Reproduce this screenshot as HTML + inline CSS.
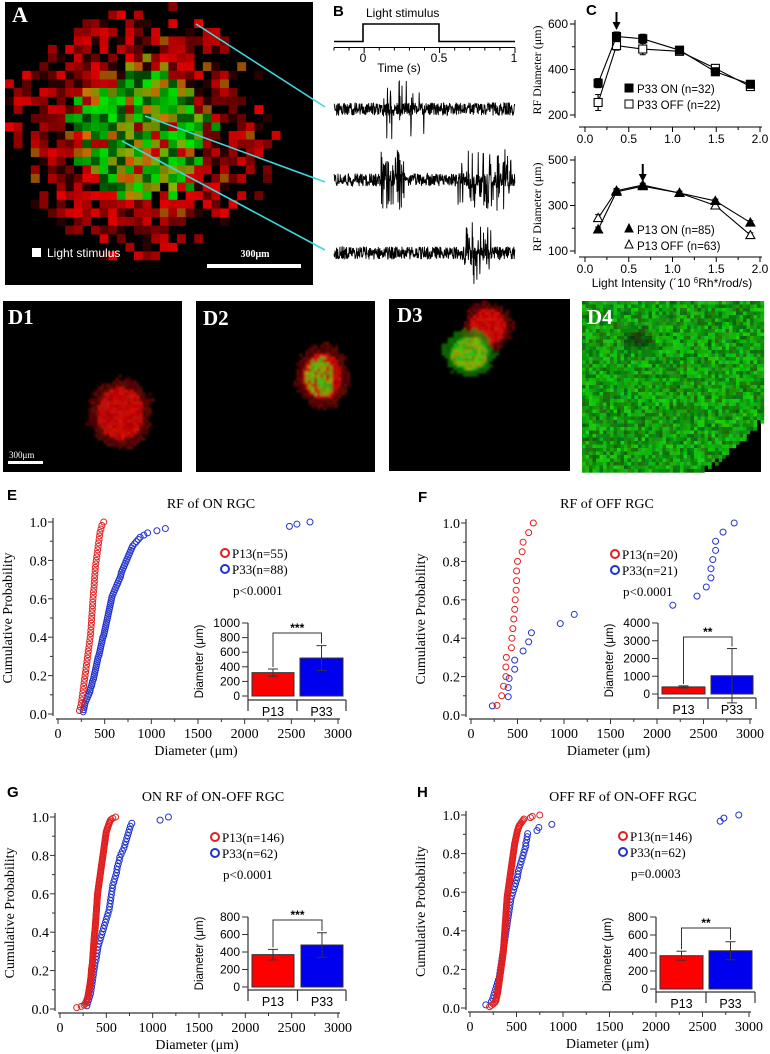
<!DOCTYPE html>
<html><head><meta charset="utf-8">
<style>
html,body{margin:0;padding:0;background:#fff;}
svg{display:block;}
.serif{font-family:"Liberation Serif",serif;}
.sans{font-family:"Liberation Sans",sans-serif;}
</style></head>
<body>
<svg id="fig" width="770" height="1054" viewBox="0 0 770 1054" xmlns="http://www.w3.org/2000/svg">
<defs><filter id="soft" x="-20%" y="-20%" width="140%" height="140%"><feGaussianBlur stdDeviation="1.1"/></filter></defs>
<rect x="0" y="0" width="770" height="1054" fill="#fff"/>
<g id="panelA">
<rect x="5" y="2" width="308" height="283" fill="#000"/>
<g id="aPix"></g>
<text x="12" y="22" class="serif" font-size="22" font-weight="bold" fill="#fff">A</text>
<rect x="32" y="248" width="9" height="9" fill="#fff"/>
<text x="47" y="257" class="sans" font-size="12" fill="#fff">Light stimulus</text>
<text x="255" y="257" class="serif" font-size="10" font-weight="bold" fill="#fff" text-anchor="middle">300μm</text>
<rect x="207" y="264" width="94" height="4" fill="#fff"/>
</g>
<g stroke="#3fd7df" stroke-width="1.6">
<line x1="196" y1="24" x2="325" y2="107"/>
<line x1="145" y1="116" x2="325" y2="182"/>
<line x1="122" y1="141" x2="325" y2="250"/>
</g>
<g id="panelB">
<text x="333" y="16" class="sans" font-size="15" font-weight="bold">B</text>
<text x="366" y="17" class="sans" font-size="12">Light stimulus</text>
<polyline points="334,41.5 363,41.5 363,24 439,24 439,41.5 515,41.5" fill="none" stroke="#000" stroke-width="1.6"/>
<line x1="334" y1="47.5" x2="515" y2="47.5" stroke="#000" stroke-width="1"/>
<g id="bTicks"></g>
<text x="363" y="62" class="sans" font-size="12" text-anchor="middle">0</text>
<text x="439" y="62" class="sans" font-size="12" text-anchor="middle">0.5</text>
<text x="514" y="62" class="sans" font-size="12" text-anchor="middle">1</text>
<text x="399" y="72" class="sans" font-size="12" text-anchor="middle">Time (s)</text>
<g id="bTraces"></g>
</g>
<g id="panelC">
<text x="586" y="15" class="sans" font-size="15" font-weight="bold">C</text>
<g id="cTop"></g><g id="cBot"></g>
<text class="serif" font-size="12" text-anchor="middle" transform="translate(541,70) rotate(-90)">RF Diameter (μm)</text>
<text class="serif" font-size="12" text-anchor="middle" transform="translate(541,207) rotate(-90)">RF Diameter (μm)</text>
<text x="672" y="287" class="sans" font-size="12" text-anchor="middle">Light Intensity (´10 <tspan font-size="8" dy="-4">6</tspan><tspan dy="4">Rh*/rod/s)</tspan></text>
</g>
<g id="panelD">
<rect x="3" y="301" width="179" height="171" fill="#000"/>
<rect x="196" y="301" width="179" height="171" fill="#000"/>
<rect x="389" y="299" width="181" height="172" fill="#000"/>
<rect x="582" y="301" width="179" height="171" fill="#000"/>
<g id="dPix" filter="url(#soft)"></g>
<g id="d4Pix"></g>
<text x="8" y="324" class="serif" font-size="21" font-weight="bold" fill="#fff">D1</text>
<text x="203" y="325" class="serif" font-size="21" font-weight="bold" fill="#fff">D2</text>
<text x="397" y="322" class="serif" font-size="21" font-weight="bold" fill="#fff">D3</text>
<text x="587" y="324" class="serif" font-size="21" font-weight="bold" fill="#fff">D4</text>
<text x="9" y="458" class="serif" font-size="9" fill="#fff">300μm</text>
<rect x="8" y="461" width="35" height="3" fill="#fff"/>
</g>
<text x="7" y="500" class="sans" font-size="15" font-weight="bold">E</text>
<text x="211" y="508" class="serif" font-size="14" text-anchor="middle">RF of ON RGC</text>
<text x="418" y="502" class="sans" font-size="15" font-weight="bold">F</text>
<text x="607" y="508" class="serif" font-size="14" text-anchor="middle">RF of OFF RGC</text>
<text x="7" y="797" class="sans" font-size="15" font-weight="bold">G</text>
<text x="213" y="801" class="serif" font-size="14" text-anchor="middle">ON RF of ON-OFF RGC</text>
<text x="417" y="797" class="sans" font-size="15" font-weight="bold">H</text>
<text x="623" y="801" class="serif" font-size="14" text-anchor="middle">OFF RF of ON-OFF RGC</text>
<g id="cdfE"></g><g id="cdfF"></g><g id="cdfG"></g><g id="cdfH"></g>
</svg>
<script>
const NS='http://www.w3.org/2000/svg';
const cIntensity=[0.15,0.36,0.66,1.08,1.49,1.89];
const cP33On=[340,545,535,485,390,335];
const cP33OnErr=[20,20,20,15,10,10];
const cP33Off=[255,505,490,480,405,325];
const cP33OffErr=[35,20,25,15,10,10];
const cP13On=[195,360,385,355,320,225];
const cP13OnErr=[10,10,8,8,8,8];
const cP13Off=[245,365,390,355,300,170];
const cP13OffErr=[15,10,8,8,8,10];
const cTopTicks=[200,400,600];
const cBotTicks=[100,300,500];
const cXTicks=[0,0.5,1,1.5,2];
const eP13=[230,240,250,255,260,265,270,275,280,285,290,295,300,305,310,315,320,325,330,335,340,345,350,352,355,358,360,362,365,368,370,372,375,378,380,385,388,390,392,395,398,400,405,410,415,420,425,430,435,440,445,450,460,470,490];
const eP33=[270,275,280,285,290,300,310,320,330,340,345,350,360,365,370,380,385,390,395,400,405,410,415,420,425,430,440,445,450,455,460,465,470,475,480,490,495,500,505,510,515,520,525,530,535,540,545,550,555,560,565,570,575,580,590,600,610,620,630,640,650,660,670,675,680,690,700,710,720,730,740,750,760,770,780,790,800,820,840,860,880,920,960,1060,1150,2480,2560,2700];
const fP13=[280,330,350,375,375,380,435,440,450,460,470,475,485,490,490,500,550,560,620,670];
const fP33=[230,400,400,410,470,470,560,620,650,960,1110,2170,2430,2530,2580,2580,2600,2630,2630,2710,2830];
const gP13=[180,230,260,270,280,285,290,295,300,302,305,308,310,312,315,318,320,322,324,326,328,330,332,334,335,336,337,338,339,340,342,344,346,348,350,351,352,353,354,355,356,357,358,359,360,361,362,363,364,365,366,367,368,369,370,371,372,374,376,378,379,380,381,382,383,384,385,386,387,388,389,390,391,392,393,394,395,396,397,398,399,400,401,402,403,404,405,406,408,410,412,414,416,418,420,422,424,426,428,430,432,434,436,438,440,442,444,446,448,450,452,454,456,458,460,462,464,466,468,470,472,474,476,478,480,482,484,486,488,490,492,494,496,498,500,505,510,515,520,525,530,535,540,550,570,600];
const gP33=[290,300,310,320,330,335,340,345,350,355,360,365,370,375,380,390,395,400,405,410,420,430,440,450,460,470,480,490,500,510,520,530,535,540,545,550,555,560,565,570,580,590,600,610,615,620,630,640,645,660,675,690,700,710,720,730,740,750,760,775,1080,1170];
const hP13=[210,230,250,265,275,280,283,286,289,292,295,298,300,302,304,306,308,310,312,314,316,318,320,322,324,326,328,330,332,334,336,338,340,342,344,346,348,350,352,354,356,358,359,360,361,362,363,364,365,366,367,368,369,370,371,372,373,374,375,376,377,378,379,380,381,382,383,384,385,386,387,388,389,390,391,392,393,394,395,396,397,398,399,400,402,404,406,408,410,412,414,416,418,420,422,424,426,428,430,432,434,436,438,440,442,444,446,448,450,452,454,456,458,460,462,464,466,468,470,472,474,476,478,480,483,486,489,492,495,498,501,504,507,510,515,520,525,530,540,550,560,570,580,650,670,750];
const hP33=[170,230,245,255,265,275,285,295,305,315,320,325,330,335,340,345,350,355,360,365,370,375,380,385,390,395,400,405,410,415,420,425,430,435,440,450,460,470,480,490,500,510,515,520,530,540,550,560,570,580,590,600,600,610,615,620,720,740,880,2690,2730,2890];
const cdfXTicks=[0,500,1000,1500,2000,2500,3000];
const cdfYTicks=[0,0.2,0.4,0.6,0.8,1.0];
const eMeans=[320,520]; const eErrs=[50,170]; const eTicks=[0,200,400,600,800,1000];
const fMeans=[400,1030]; const fErrs=[60,1530]; const fTicks=[0,1000,2000,3000,4000];
const gMeans=[370,480]; const gErrs=[60,140]; const gTicks=[0,200,400,600,800];
const hMeans=[370,425]; const hErrs=[50,100]; const hTicks=[0,200,400,600,800];
const groupLabels=['P13','P33'];

function mk(tag,attrs,parent){const e=document.createElementNS(NS,tag);for(const k in attrs)e.setAttribute(k,attrs[k]);parent.appendChild(e);return e;}
function txt(parent,x,y,s,attrs){const t=mk('text',Object.assign({x:x,y:y},attrs||{}),parent);t.textContent=s;return t;}
let seed=12345;function rnd(){seed=(seed*1103515245+12345)&0x7fffffff;return seed/0x7fffffff;}

(function(){
 const g=document.getElementById('aPix');const s=8.6;const cx=140,cy=130;
 for(let yy=2;yy<285;yy+=s){for(let xx=5;xx<313;xx+=s){
  const dx=(xx+s/2-cx)/1.05,dy=yy+s/2-cy;const d=Math.sqrt(dx*dx+dy*dy);
  let col=null;
  if(d<55+rnd()*20){const r=rnd();
    if(r<0.35)col='rgb(0,'+(140+Math.floor(rnd()*90))+',0)';
    else if(r<0.6)col='rgb('+(90+Math.floor(rnd()*60))+','+(130+Math.floor(rnd()*50))+',0)';
    else if(r<0.8)col='rgb(0,'+(60+Math.floor(rnd()*50))+',0)';
    else if(r<0.9)col='rgb('+(160+Math.floor(rnd()*60))+','+(80+Math.floor(rnd()*50))+',0)';
    else col='rgb('+(150+Math.floor(rnd()*60))+',0,0)';}
  else if(d<140){const p=d<95?0.85:(140-d)/60; if(rnd()<p){const r=rnd();
    col=r<0.15?'rgb(40,0,0)':'rgb('+(90+Math.floor(rnd()*140))+',0,0)'; if(rnd()<0.04)col='rgb(150,80,0)';}}
  if(col){const r=mk('rect',{x:xx.toFixed(1),y:yy.toFixed(1),width:s+0.3,height:s+0.3,fill:col},g);
   
   }
 }}
})();

(function(){
 const tg=document.getElementById('bTicks');
 for(let i=0;i<=12;i++){const x=334+i*(181/12);const major=(Math.abs(x-363)<2||Math.abs(x-439)<2||Math.abs(x-514)<2);
  mk('line',{x1:x,y1:47.5,x2:x,y2:major?53:50.5,stroke:'#000','stroke-width':1},tg);}
 const g=document.getElementById('bTraces');
 const traces=[{y:109,bursts:[[382,426,0.25]]},{y:180,bursts:[[381,404,0.7],[457,514,0.45]]},{y:253,bursts:[[460,491,0.35]]}];
 traces.forEach((t,ti)=>{let d='';
  for(let x=334;x<=515;x+=0.33){let a=(rnd()-0.5)*13;
   t.bursts.forEach(b=>{if(x>=b[0]&&x<=b[1]&&rnd()<b[2]){a=(rnd()-0.5)*62;}});
   d+=(d===''?'M':'L')+x.toFixed(2)+' '+(t.y+a).toFixed(1);}
  const p=mk('path',{d:d,fill:'none',stroke:'#000','stroke-width':0.9},g);
  
  
 });
})();

function drawC(gid,cfg,on,onE,off,offE,yTicks,shape,legend){
 const g=document.getElementById(gid);
 const sx=v=>cfg.xl+v/2*(cfg.xr-cfg.xl);
 const sy=v=>cfg.yp0+(v-cfg.yv0)/(cfg.yv1-cfg.yv0)*(cfg.yp1-cfg.yp0);
 const ya=mk('line',{x1:cfg.axX,y1:sy(cfg.yv1)-4,x2:cfg.axX,y2:sy(cfg.yv0)+3,stroke:'#000'},g);
 
 
 const xa=mk('line',{x1:sx(0)-6,y1:cfg.axY,x2:sx(2)+2,y2:cfg.axY,stroke:'#000'},g);
 
 
 yTicks.forEach(v=>{mk('line',{x1:cfg.axX-5,y1:sy(v),x2:cfg.axX,y2:sy(v),stroke:'#000'},g);
  txt(g,cfg.axX-7,sy(v)+4,String(v),{'class':'sans','font-size':12,'text-anchor':'end'});
  const mv=v+(yTicks[1]-yTicks[0])/2; if(mv<cfg.yv1) mk('line',{x1:cfg.axX-3,y1:sy(mv),x2:cfg.axX,y2:sy(mv),stroke:'#000'},g);});
 for(let v=0;v<=2.001;v+=0.25){const maj=Math.abs(v*2-Math.round(v*2))<0.01;
  mk('line',{x1:sx(v),y1:cfg.axY,x2:sx(v),y2:cfg.axY+(maj?5:3),stroke:'#000'},g);}
 cXTicks.forEach(v=>txt(g,sx(v),cfg.axY+16,v.toFixed(1),{'class':'sans','font-size':12,'text-anchor':'middle'}));
 [[off,offE,false],[on,onE,true]].forEach(([vals,errs,filled])=>{
  const pts=cIntensity.map((x,i)=>sx(x)+','+sy(vals[i])).join(' ');
  const l=mk('polyline',{points:pts,fill:'none',stroke:'#000','stroke-width':1.1},g);
  
  
  cIntensity.forEach((x,i)=>{const X=sx(x),Y=sy(vals[i]);
   mk('line',{x1:X,y1:sy(vals[i]-errs[i]),x2:X,y2:sy(vals[i]+errs[i]),stroke:'#000','stroke-width':1.2},g);
   mk('line',{x1:X-3,y1:sy(vals[i]-errs[i]),x2:X+3,y2:sy(vals[i]-errs[i]),stroke:'#000'},g);
   mk('line',{x1:X-3,y1:sy(vals[i]+errs[i]),x2:X+3,y2:sy(vals[i]+errs[i]),stroke:'#000'},g);
   let m;
   if(shape==='sq') m=mk('rect',{x:X-4,y:Y-4,width:8,height:8,fill:filled?'#000':'#fff',stroke:'#000','stroke-width':1.1},g);
   else m=mk('polygon',{points:(X)+','+(Y-4.5)+' '+(X-4.5)+','+(Y+3.5)+' '+(X+4.5)+','+(Y+3.5),fill:filled?'#000':'#fff',stroke:'#000','stroke-width':1.1},g);
   
   
  });
 });
 const ax=sx(cfg.arrowX);
 mk('line',{x1:ax,y1:cfg.arrowY,x2:ax,y2:cfg.arrowY+12,stroke:'#000','stroke-width':2},g);
 mk('polygon',{points:(ax-4)+','+(cfg.arrowY+10)+' '+(ax+4)+','+(cfg.arrowY+10)+' '+ax+','+(cfg.arrowY+18),fill:'#000'},g);
 legend.forEach((lg,i)=>{const y=cfg.legY+i*16;
  let m; if(shape==='sq') m=mk('rect',{x:625,y:y-9,width:8,height:8,fill:i===0?'#000':'#fff',stroke:'#000'},g);
  else m=mk('polygon',{points:'629,'+(y-10)+' 625,'+(y-2)+' 633,'+(y-2),fill:i===0?'#000':'#fff',stroke:'#000'},g);
  
  
  const t=txt(g,637,y,lg,{'class':'sans','font-size':11.5});
  
  });
}
drawC('cTop',{xl:585,xr:760,yv0:200,yv1:600,yp0:115,yp1:24,axX:575,axY:127,arrowX:0.36,arrowY:12,legY:93},cP33On,cP33OnErr,cP33Off,cP33OffErr,cTopTicks,'sq',['P33 ON (n=32)','P33 OFF (n=22)']);
drawC('cBot',{xl:585,xr:760,yv0:100,yv1:500,yp0:251,yp1:160,axX:575,axY:257,arrowX:0.66,arrowY:164,legY:234},cP13On,cP13OnErr,cP13Off,cP13OffErr,cBotTicks,'tri',['P13 ON (n=85)','P13 OFF (n=63)']);

(function(){
 const g=document.getElementById('dPix');const s=3;
 function blob(cx,cy,rx,ry,colorFn){for(let y=cy-ry*1.4;y<cy+ry*1.4;y+=s)for(let x=cx-rx*1.4;x<cx+rx*1.4;x+=s){
  const d=Math.sqrt(((x-cx)/rx)**2+((y-cy)/ry)**2);if(d>1.1+rnd()*0.25)continue;const c=colorFn(d,x,y);if(!c)continue;
  mk('rect',{x:x.toFixed(1),y:y.toFixed(1),width:s+0.2,height:s+0.2,fill:c,opacity:d>0.9?0.6:1},g);}}
 const rr=d=>'rgb('+Math.floor((d>0.9?110:170)+rnd()*50)+','+Math.floor(rnd()*20)+','+Math.floor(rnd()*15)+')';
 blob(119,412,26,29,rr);
 blob(321,375,22,26,(d,x,y)=>{if(d<0.75&&x<332&&rnd()<0.8){return rnd()<0.5?'rgb(70,'+(150+Math.floor(rnd()*50))+',20)':'rgb(150,'+(140+Math.floor(rnd()*40))+',0)';}return rr(d);});
 blob(486,325,20,20,rr);
 blob(468,352,21,19,(d)=>{const r=rnd();if(d<0.85)return r<0.5?'rgb(40,'+(160+Math.floor(rnd()*50))+',20)':'rgb(150,'+(140+Math.floor(rnd()*40))+',0)';return 'rgb(20,'+(140+Math.floor(rnd()*40))+',10)';});
 const g4=document.getElementById('d4Pix');const s4=3.5;
 for(let y=301;y<472;y+=s4)for(let x=582;x<761;x+=s4){
  const d=Math.sqrt((x-600)**2+(y-290)**2);
  if(d>203+rnd()*5)continue;
  let gv=100+Math.floor(rnd()*110);
  const sd=Math.sqrt((x-637)**2+((y-337)*1.2)**2);if(sd<18)gv*=0.4+sd/35;
  mk('rect',{x:x.toFixed(1),y:y.toFixed(1),width:s4+0.2,height:s4+0.2,fill:'rgb('+Math.floor(rnd()*40)+','+Math.floor(gv)+','+Math.floor(rnd()*30)+')'},g4);}
})();

function drawCdf(gid,P,red,blue,legend,inset,means,errs,iticks){
 const g=document.getElementById(gid);
 const sx=v=>P.xl+v/3000*(P.xr-P.xl);
 const sy=p=>P.yb-p*(P.yb-P.yt);
 const ya=mk('line',{x1:P.axX,y1:sy(1)-4,x2:P.axX,y2:sy(0)+2,stroke:'#333','stroke-width':1.2},g);
 
 
 const xa=mk('line',{x1:sx(0)-2,y1:P.axY,x2:sx(3000)+2,y2:P.axY,stroke:'#333','stroke-width':1.2},g);
 
 
 cdfYTicks.forEach(v=>{mk('line',{x1:P.axX-5,y1:sy(v),x2:P.axX,y2:sy(v),stroke:'#333'},g);
  txt(g,P.axX-6,sy(v)+5,v.toFixed(1),{'class':'serif','font-size':14,'text-anchor':'end'});});
 for(let v=0.1;v<1;v+=0.2) mk('line',{x1:P.axX-3,y1:sy(v),x2:P.axX,y2:sy(v),stroke:'#333'},g);
 cdfXTicks.forEach(v=>{mk('line',{x1:sx(v),y1:P.axY,x2:sx(v),y2:P.axY+5,stroke:'#333'},g);
  txt(g,sx(v),P.axY+19,String(v),{'class':'serif','font-size':14,'text-anchor':'middle'});});
 for(let v=250;v<3000;v+=500) mk('line',{x1:sx(v),y1:P.axY,x2:sx(v),y2:P.axY+3,stroke:'#333'},g);
 const xt=txt(g,(sx(0)+sx(3000))/2-2,P.axY+36,'Diameter (μm)',{'class':'serif','font-size':14,'text-anchor':'middle'});
 
 
 const yt=txt(g,0,0,'Cumulative  Probability',{'class':'serif','font-size':14,'text-anchor':'middle',transform:'translate('+(P.axX-41)+','+((sy(0)+sy(1))/2)+') rotate(-90)'});
 
 
 [[blue,'#2233cc'],[red,'#e02020']].forEach(([vals,col])=>{
  vals.forEach((v,i)=>{const c=mk('circle',{cx:sx(v).toFixed(2),cy:sy((i+1)/vals.length).toFixed(2),r:3,fill:'none',stroke:col,'stroke-width':1},g);
   
   });
 });
 legend.items.forEach((s,i)=>{const y=legend.y+i*16;const col=i===0?'#e02020':'#2233cc';
  const c=mk('circle',{cx:legend.x,cy:y-4,r:4,fill:'none',stroke:col,'stroke-width':2},g);
  
  
  const t=txt(g,legend.x+7,y+1,s,{'class':'serif','font-size':13});
  
  });
 const pt=txt(g,legend.x+8,legend.y+38,legend.p,{'class':'serif','font-size':13});
 
 
 const I=inset;const max=iticks[iticks.length-1];
 const iy=v=>I.yb-v/max*(I.yb-I.yt);
 mk('line',{x1:I.ax,y1:I.yt,x2:I.ax,y2:I.base,stroke:'#333','stroke-width':1.2},g);
 mk('line',{x1:I.ax,y1:I.base,x2:I.bx[1]+3,y2:I.base,stroke:'#333','stroke-width':1.2},g);
 [I.ax,(I.rx[1]+I.bx[0])/2,I.bx[1]+3].forEach(x=>mk('line',{x1:x,y1:I.base,x2:x,y2:I.base+11,stroke:'#333','stroke-width':1.2},g));
 iticks.forEach(v=>{mk('line',{x1:I.ax-6,y1:iy(v),x2:I.ax,y2:iy(v),stroke:'#333'},g);
  txt(g,I.ax-8,iy(v)+4,String(v),{'class':'sans','font-size':12,'text-anchor':'end'});});
 const it=txt(g,0,0,'Diameter (μm)',{'class':'sans','font-size':11.5,'text-anchor':'middle',transform:'translate('+(I.ax-45)+','+((I.yt+I.base)/2)+') rotate(-90)'});
 
 
 const xs=[I.rx,I.bx];const cols=['#ff0000','#0000ee'];const centers=[];
 means.forEach((m,i)=>{const b=mk('rect',{x:xs[i][0],y:iy(m),width:xs[i][1]-xs[i][0],height:I.yb-iy(m),fill:cols[i],stroke:'#333','stroke-width':1},g);
  
  
  const cx=(xs[i][0]+xs[i][1])/2;centers.push(cx);
  mk('line',{x1:cx,y1:iy(m-errs[i]),x2:cx,y2:iy(m+errs[i]),stroke:'#333','stroke-width':1},g);
  mk('line',{x1:cx-5,y1:iy(m+errs[i]),x2:cx+5,y2:iy(m+errs[i]),stroke:'#333'},g);
  mk('line',{x1:cx-5,y1:iy(m-errs[i]),x2:cx+5,y2:iy(m-errs[i]),stroke:'#333'},g);
  txt(g,cx,I.base+16,groupLabels[i],{'class':'sans','font-size':12.5,'text-anchor':'middle'});
 });
 const br=mk('polyline',{points:centers[0]+','+(iy(means[0]+errs[0])-2)+' '+centers[0]+','+I.brY+' '+centers[1]+','+I.brY+' '+centers[1]+','+(iy(means[1]+errs[1])-2),fill:'none',stroke:'#333','stroke-width':1},g);
 
 
 const st=txt(g,(centers[0]+centers[1])/2,I.brY-1,I.stars,{'class':'sans','font-size':12,'font-weight':'bold','text-anchor':'middle'});
 
 
}
drawCdf('cdfE',{xl:58,xr:338,yb:714,yt:522,axX:53,axY:719},eP13,eP33,
 {x:225,y:557,items:['P13(n=55)','P33(n=88)'],p:'p<0.0001'},
 {ax:248,yb:696,yt:623,base:700,rx:[252,294],bx:[300,343],brY:633,stars:'***'},eMeans,eErrs,eTicks);
drawCdf('cdfF',{xl:471,xr:750,yb:715,yt:523,axX:466,axY:719},fP13,fP33,
 {x:615,y:558,items:['P13(n=20)','P33(n=21)'],p:'p<0.0001'},
 {ax:658,yb:694,yt:623,base:698,rx:[662,705],bx:[711,753],brY:637,stars:'**'},fMeans,fErrs,fTicks);
drawCdf('cdfG',{xl:60,xr:338,yb:1009,yt:817,axX:55,axY:1013},gP13,gP33,
 {x:215,y:841,items:['P13(n=146)','P33(n=62)'],p:'p<0.0001'},
 {ax:248,yb:987,yt:917,base:990,rx:[252,294],bx:[301,343],brY:920,stars:'***'},gMeans,gErrs,gTicks);
drawCdf('cdfH',{xl:470,xr:749,yb:1008,yt:815,axX:466,axY:1012},hP13,hP33,
 {x:623,y:840,items:['P13(n=146)','P33(n=62)'],p:'p=0.0003'},
 {ax:656,yb:989,yt:917,base:992,rx:[660,703],bx:[709,752],brY:928,stars:'**'},hMeans,hErrs,hTicks);
</script>
</body></html>
